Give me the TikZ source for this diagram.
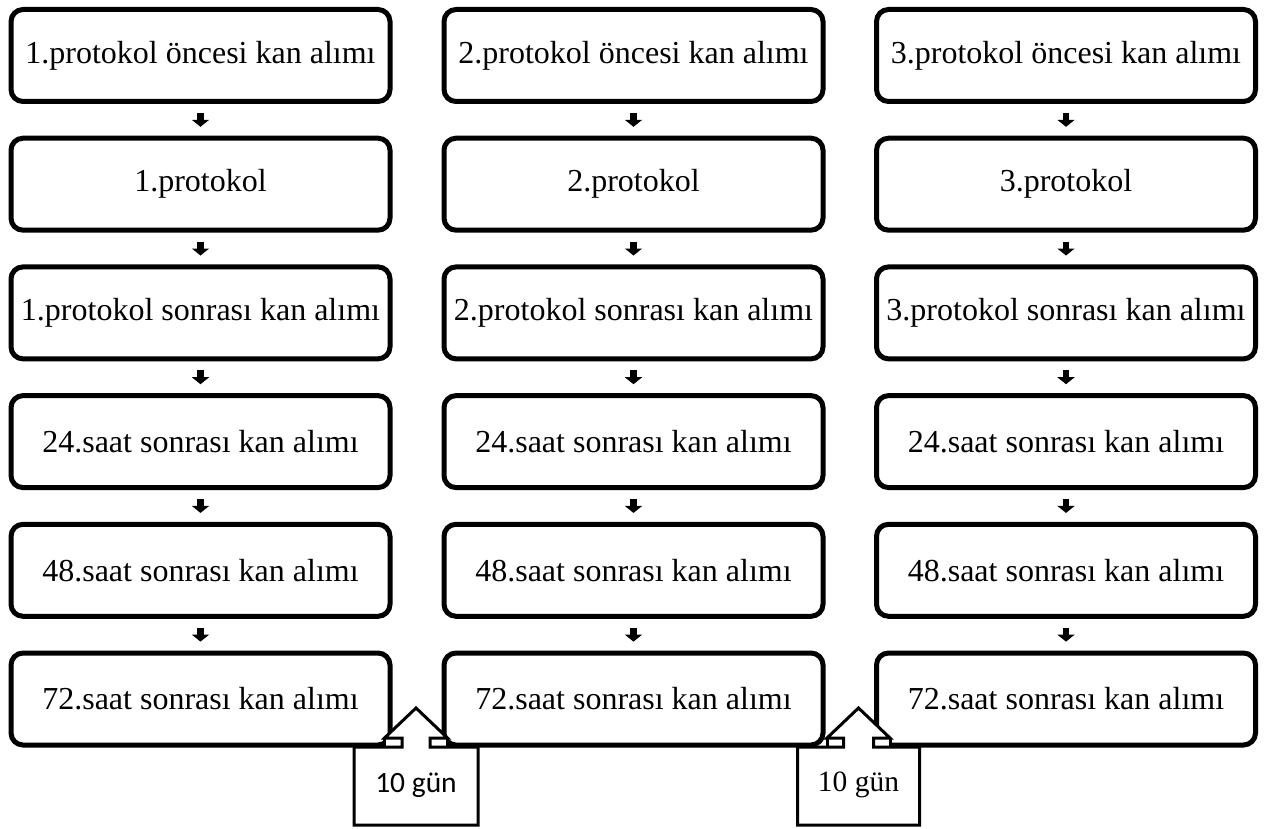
\documentclass[tikz,border=0pt]{standalone}
\usepackage{fontspec}
\setmainfont{Liberation Serif}
\newfontfamily\calibrifont{Carlito}
\usetikzlibrary{arrows.meta,calc}
\tikzset{
  stepbox/.style={draw, line width=5pt, rounded corners=12pt, fill=white,
    minimum width=379pt, minimum height=92pt, inner sep=0pt,
    font=\fontsize{32}{38}\selectfont},
  flowarrow/.style={line width=6.5pt, -{Triangle[width=17pt,length=7pt]}},
  calloutline/.style={draw, line width=3pt, fill=white, line join=miter},
  callouttext/.style={inner sep=0pt, font=\fontsize{29.5}{32}\selectfont}
}
\begin{document}
\begin{tikzpicture}[x=1pt,y=-1pt]
\useasboundingbox (0,0) rectangle (1278,829);
% columns and rows
\foreach \c/\cx in {1/200.5, 2/633.5, 3/1066} {
  \node[stepbox] (c\c r1) at (\cx, 55.5) {\c.protokol öncesi kan alımı};
  \node[stepbox] (c\c r2) at (\cx, 184.2) {\c.protokol};
  \node[stepbox] (c\c r3) at (\cx, 312.9) {\c.protokol sonrası kan alımı};
  \node[stepbox] (c\c r4) at (\cx, 441.6) {24.saat sonrası kan alımı};
  \node[stepbox] (c\c r5) at (\cx, 570.3) {48.saat sonrası kan alımı};
  \node[stepbox] (c\c r6) at (\cx, 699) {72.saat sonrası kan alımı};
  \foreach \a/\b in {1/2, 2/3, 3/4, 4/5, 5/6} {
    \draw[flowarrow] ($(c\c r\a.south)!0.28!(c\c r\b.north)$) -- ($(c\c r\a.south)!0.72!(c\c r\b.north)$);
  }
}
% callouts
\foreach \k/\cx/\hw/\sw in {1/416/62/14, 2/858.5/61/15} {
  \fill[white] (\cx-31.5,738) rectangle (\cx+31.5,748);
  \draw[line width=3pt] (\cx-31.5,738) -- (\cx-31.5,747) (\cx+31.5,738) -- (\cx+31.5,747);
  \path[calloutline] (\cx-\hw,747) -- (\cx-\sw,747) -- (\cx-\sw,738) -- (\cx-31.5,738)
    -- (\cx,708) -- (\cx+31.5,738) -- (\cx+\sw,738) -- (\cx+\sw,747) -- (\cx+\hw,747)
    -- (\cx+\hw,825) -- (\cx-\hw,825) -- cycle;
  \coordinate (k\k) at (\cx,785);
}
\node[callouttext, font=\calibrifont\fontsize{29.5}{32}\selectfont] (gun1) at (k1) {10 gün};
\node[callouttext] (gun2) at (k2) {10 gün};
\end{tikzpicture}
\end{document}
